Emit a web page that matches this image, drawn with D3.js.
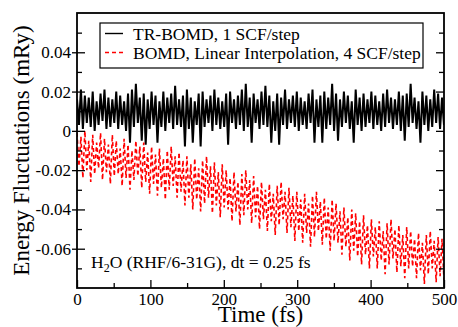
<!DOCTYPE html>
<html>
<head>
<meta charset="utf-8">
<script src="https://cdn.jsdelivr.net/npm/d3@7"></script>
<style>
  body { margin: 0; background: #fff; }
  svg text { font-family: "Liberation Serif", "Times New Roman", serif; fill: #000; }
</style>
</head>
<body>
<svg id="chart" width="458" height="327"></svg>
<script>
// values (mRy), one peak and one trough per oscillation
var blackPeaks = [
  0.016, 0.021, 0.018, 0.017, 0.020, 0.015, 0.019, 0.021, 0.017, 0.016,
  0.020, 0.018, 0.015, 0.019, 0.021, 0.024, 0.017, 0.019, 0.016, 0.020,
  0.018, 0.015, 0.020, 0.017, 0.019, 0.023, 0.016, 0.018, 0.021, 0.017,
  0.015, 0.019, 0.020, 0.016, 0.018, 0.021, 0.017, 0.015, 0.019, 0.020,
  0.016, 0.018, 0.021, 0.024, 0.017, 0.019, 0.016, 0.020, 0.023, 0.018,
  0.015, 0.019, 0.017, 0.021, 0.016, 0.018, 0.020, 0.017, 0.015, 0.019,
  0.021, 0.016, 0.018, 0.020, 0.017, 0.024, 0.019, 0.016, 0.020, 0.018,
  0.015, 0.021, 0.017, 0.019, 0.016, 0.020, 0.018, 0.015, 0.019, 0.021,
  0.017, 0.016, 0.020, 0.018, 0.019, 0.024, 0.017, 0.015, 0.020, 0.018,
  0.016, 0.021, 0.019, 0.017
];
var blackTroughs = [
  0.003, 0.001, 0.004, 0.002, 0.000, 0.003, 0.005, 0.001, 0.002, 0.004,
  0.001, 0.003, 0.000, -0.006, 0.002, 0.004, -0.005, -0.007, 0.001, 0.003,
  -0.006, 0.002, 0.000, 0.004, 0.001, 0.003, 0.002, -0.008, 0.001, -0.006,
  0.003, -0.008, 0.002, 0.004, 0.000, 0.003, 0.001, 0.002, -0.007, 0.004,
  0.001, 0.003, 0.000, 0.002, -0.006, 0.004, 0.001, 0.003, 0.002, -0.006,
  0.000, -0.007, 0.003, 0.001, 0.004, 0.002, 0.000, 0.003, 0.001, 0.004,
  -0.006, 0.002, -0.006, 0.001, 0.003, 0.000, -0.005, 0.002, 0.004, 0.001,
  -0.006, 0.003, 0.000, 0.002, 0.004, 0.001, 0.003, 0.000, 0.002, 0.004,
  0.001, 0.003, 0.000, -0.005, 0.002, 0.004, 0.001, -0.006, 0.003, 0.000,
  0.002, 0.004, 0.001, 0.003
];
var redPeaks = [
  -0.001, -0.003, 0.000, -0.005, -0.002, -0.006, -0.001, -0.004, -0.007, -0.002,
  -0.005, -0.009, -0.004, -0.007, -0.010, -0.005, -0.008, -0.006, -0.011,
  -0.008, -0.012, -0.009, -0.014, -0.010, -0.008, -0.013, -0.011, -0.015,
  -0.013, -0.017, -0.014, -0.019, -0.015, -0.013, -0.018, -0.016, -0.021, -0.017,
  -0.020, -0.024, -0.021, -0.026, -0.022, -0.020, -0.025, -0.023, -0.028,
  -0.026, -0.030, -0.027, -0.032, -0.028, -0.026, -0.031, -0.029, -0.033,
  -0.031, -0.035, -0.032, -0.037, -0.033, -0.031, -0.036, -0.034, -0.039, -0.035,
  -0.037, -0.041, -0.039, -0.044, -0.040, -0.042, -0.046, -0.043, -0.048,
  -0.045, -0.049, -0.046, -0.051, -0.047, -0.045, -0.050, -0.048, -0.053, -0.049,
  -0.051, -0.055, -0.052, -0.057, -0.053, -0.051, -0.056, -0.054, -0.055
];
var redTroughs = [
  -0.018, -0.024, -0.020, -0.026, -0.022, -0.019, -0.025, -0.021, -0.027, -0.023,
  -0.022, -0.028, -0.024, -0.030, -0.025, -0.023, -0.029, -0.026, -0.032,
  -0.027, -0.033, -0.029, -0.035, -0.030, -0.028, -0.034, -0.031, -0.038,
  -0.034, -0.040, -0.035, -0.041, -0.037, -0.034, -0.042, -0.038, -0.044, -0.039,
  -0.040, -0.046, -0.041, -0.048, -0.043, -0.040, -0.047, -0.044, -0.050,
  -0.045, -0.051, -0.046, -0.053, -0.048, -0.045, -0.052, -0.049, -0.056,
  -0.051, -0.057, -0.052, -0.059, -0.054, -0.051, -0.058, -0.055, -0.061, -0.056,
  -0.057, -0.063, -0.059, -0.066, -0.061, -0.064, -0.068, -0.063, -0.070,
  -0.064, -0.070, -0.066, -0.073, -0.068, -0.065, -0.072, -0.069, -0.075, -0.070,
  -0.069, -0.075, -0.071, -0.078, -0.073, -0.070, -0.077, -0.074, -0.076
];

var xTicks = [0, 100, 200, 300, 400, 500];
var xMinorTicks = [50, 150, 250, 350, 450];
var yTicks = [-0.06, -0.04, -0.02, 0, 0.02, 0.04];
var yTickLabels = ["-0.06", "-0.04", "-0.02", "0", "0.02", "0.04"];
var yMinorTicks = [-0.07, -0.05, -0.03, -0.01, 0.01, 0.03, 0.05];
var legendLabels = ["TR-BOMD, 1 SCF/step", "BOMD, Linear Interpolation, 4 SCF/step"];
var tMax = 500;

// peaks and troughs alternate in time
function interleave(peaks, troughs) {
  var pts = [];
  peaks.forEach(function (p, i) { pts.push(p); pts.push(troughs[i]); });
  return pts.map(function (v, i) { return [i * tMax / (pts.length - 1), v]; });
}

var blackSeries = interleave(blackPeaks, blackTroughs);
var redSeries = interleave(redPeaks, redTroughs);

var margin = { top: 13, right: 14, bottom: 39, left: 77 };
var svg = d3.select("#chart");
var width = +svg.attr("width") - margin.left - margin.right;
var height = +svg.attr("height") - margin.top - margin.bottom;

var xScale = d3.scaleLinear().domain([0, 500]).range([0, width]);
var yScale = d3.scaleLinear().domain([-0.08, 0.06]).range([height, 0]);

var g = svg.append("g").attr("transform", "translate(" + margin.left + "," + margin.top + ")");

svg.append("defs").append("clipPath").attr("id", "plotClip")
  .append("rect").attr("width", width).attr("height", height);

var line = d3.line()
  .x(function (d) { return xScale(d[0]); })
  .y(function (d) { return yScale(d[1]); });

var plot = g.append("g").attr("clip-path", "url(#plotClip)");

plot.append("path")
  .datum(blackSeries)
  .attr("fill", "none")
  .attr("stroke", "#000")
  .attr("stroke-width", 2)
  .attr("d", line);

plot.append("path")
  .datum(redSeries)
  .attr("fill", "none")
  .attr("stroke", "#ff0000")
  .attr("stroke-width", 1.6)
  .attr("stroke-dasharray", "4,3")
  .attr("d", line);

// axes: ticks drawn inside the frame, left one also pokes out
var xAxis = d3.axisBottom(xScale).tickValues(xTicks).tickSizeInner(-8).tickSizeOuter(0).tickPadding(5);
var xMinor = d3.axisBottom(xScale).tickValues(xMinorTicks).tickSizeInner(-5).tickSizeOuter(0).tickFormat("");
var yAxis = d3.axisLeft(yScale).tickValues(yTicks).tickSizeInner(5).tickSizeOuter(0).tickPadding(1)
  .tickFormat(function (d, i) { return yTickLabels[i]; });
var yInner = d3.axisLeft(yScale).tickValues(yTicks).tickSizeInner(-8).tickSizeOuter(0).tickFormat("");
var yMinor = d3.axisLeft(yScale).tickValues(yMinorTicks).tickSizeInner(-5).tickSizeOuter(0).tickFormat("");
var yRight = d3.axisRight(yScale).tickValues(yTicks).tickSizeInner(-8).tickSizeOuter(0).tickFormat("");
var yRightMinor = d3.axisRight(yScale).tickValues(yMinorTicks).tickSizeInner(-5).tickSizeOuter(0).tickFormat("");

function drawAxis(axis, transform) {
  var a = g.append("g").attr("transform", transform).call(axis);
  a.select(".domain").remove();
  a.selectAll("line").attr("stroke", "#000").attr("stroke-width", 1.3);
  a.selectAll("text").attr("font-size", 17).attr("font-family", "Liberation Serif").attr("fill", "#000");
  return a;
}

drawAxis(xAxis, "translate(0," + height + ")");
drawAxis(xMinor, "translate(0," + height + ")");
drawAxis(yAxis, null);
drawAxis(yInner, null);
drawAxis(yMinor, null);
drawAxis(yRight, "translate(" + width + ",0)");
drawAxis(yRightMinor, "translate(" + width + ",0)");

g.append("rect")
  .attr("width", width).attr("height", height)
  .attr("fill", "none").attr("stroke", "#000").attr("stroke-width", 1.8);

// axis titles
svg.append("text")
  .attr("transform", "translate(29," + (margin.top + height / 2) + ") rotate(-90)")
  .attr("text-anchor", "middle")
  .attr("font-size", 23)
  .text("Energy Fluctuations (mRy)");

svg.append("text")
  .attr("x", margin.left + width / 2)
  .attr("y", 322)
  .attr("text-anchor", "middle")
  .attr("font-size", 23)
  .text("Time (fs)");

// legend
var legend = svg.append("g").attr("transform", "translate(100,23)");
legend.append("rect")
  .attr("width", 323).attr("height", 45)
  .attr("fill", "#fff").attr("stroke", "#000").attr("stroke-width", 1.2);

var legendStyles = [
  { color: "#000", dash: null },
  { color: "#ff0000", dash: "4,3" }
];
legendLabels.forEach(function (label, i) {
  var y = 10.5 + i * 19;
  legend.append("line")
    .attr("x1", 5).attr("x2", 23).attr("y1", y).attr("y2", y)
    .attr("stroke", legendStyles[i].color)
    .attr("stroke-width", 1.4)
    .attr("stroke-dasharray", legendStyles[i].dash);
  legend.append("text")
    .attr("x", 33).attr("y", y + 6)
    .attr("font-size", 17.5)
    .text(label);
});

// annotation
var note = svg.append("text").attr("x", 91).attr("y", 268).attr("font-size", 17.5);
note.append("tspan").text("H");
note.append("tspan").attr("font-size", 12).attr("dy", 4).text("2");
note.append("tspan").attr("dy", -4).text("O (RHF/6-31G), dt = 0.25 fs");
</script>
</body>
</html>
